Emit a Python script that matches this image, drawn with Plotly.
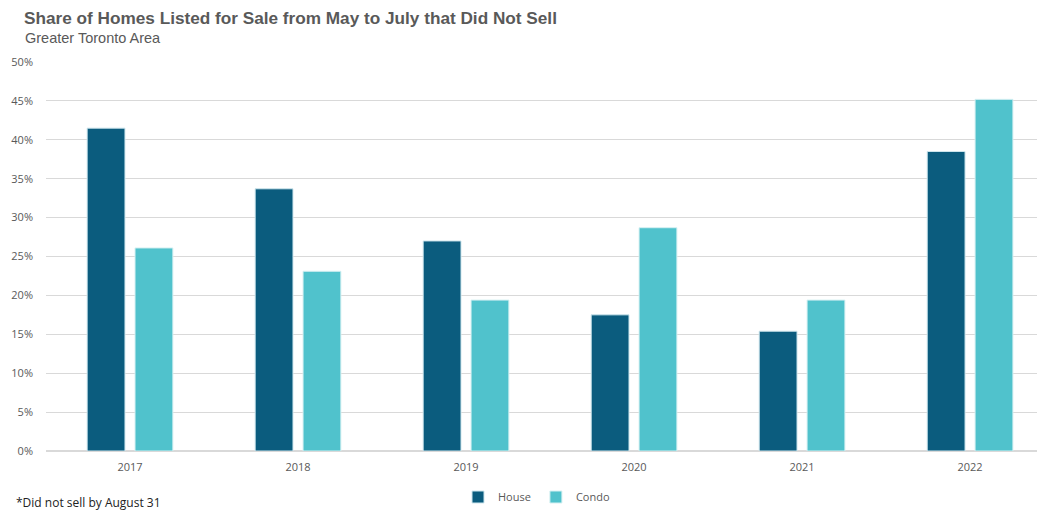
import plotly.graph_objects as go

years = ["2017", "2018", "2019", "2020", "2021", "2022"]
house = [41.5, 33.7, 27.0, 17.5, 15.4, 38.5]
condo = [26.1, 23.1, 19.4, 28.7, 19.4, 45.2]
y_ticks = [0, 5, 10, 15, 20, 25, 30, 35, 40, 45, 50]
y_labels = [f"{v}%" for v in y_ticks]

fig = go.Figure()
fig.add_trace(go.Bar(x=years, y=house, name="House",
                     marker=dict(color="#0B5C7E", line=dict(color="#cfe7ee", width=1))))
fig.add_trace(go.Bar(x=years, y=condo, name="Condo",
                     marker=dict(color="#50C2CC", line=dict(color="#d5f0f2", width=1))))

# page has an 8px body margin, so the figure is drawn 8px smaller
fig.update_layout(
    width=1037, height=504,
    margin={"l": 38, "r": 0, "t": 54, "b": 61, "autoexpand": False},
    plot_bgcolor="white", paper_bgcolor="white",
    barmode="group", bargap=0.43, bargroupgap=0.21,
    font=dict(family="Open Sans, sans-serif", size=11, color="#595959"),
    showlegend=True,
    legend=dict(orientation="h", x=0.491, xanchor="center", y=-46/389, yanchor="middle",
                font=dict(size=11, color="#595959"), itemwidth=30,
                bgcolor='rgba(255, 255, 255, 0)'),
    xaxis=dict(range=[-0.5, 5.446], showgrid=False, ticks="", showline=False,
               automargin=False, ticklabelstandoff=8, tickfont=dict(size=11)),
    yaxis=dict(range=[0, 50], tickvals=y_ticks, ticktext=y_labels, automargin=False,
               gridcolor="#D9D9D9", gridwidth=1, zeroline=True, zerolinecolor="#D9D9D9",
               ticks="", ticklabelstandoff=12, tickfont=dict(size=11)),
)

fig.add_annotation(text="<b>Share of Homes Listed for Sale from May to July that Did Not Sell</b>",
                   xref="paper", yref="paper", x=-38/999, y=1 + 43.5/389, xanchor="left", yanchor="middle",
                   xshift=16, showarrow=False, borderpad=0, borderwidth=0,
                   font=dict(family="Liberation Sans, Arial", size=17.2, color="#595959"))
fig.add_annotation(text="Greater Toronto Area",
                   xref="paper", yref="paper", x=-38/999, y=1 + 24.5/389, xanchor="left", yanchor="middle",
                   xshift=17, showarrow=False, borderpad=0, borderwidth=0,
                   font=dict(family="Liberation Sans, Arial", size=14.5, color="#595959"))
fig.add_annotation(text="*Did not sell by August 31",
                   xref="paper", yref="paper", x=-38/999, y=-51/389, xanchor="left", yanchor="middle",
                   xshift=6, showarrow=False,
                   font=dict(family="Open Sans, sans-serif", size=12, color="#222222"))

fig.write_html("out.html")
